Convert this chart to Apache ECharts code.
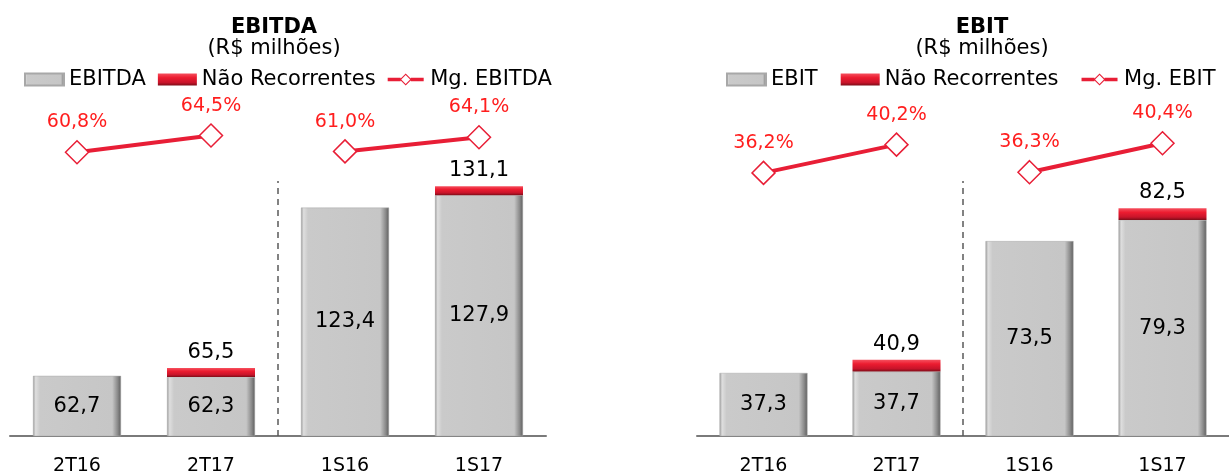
<!DOCTYPE html>
<html>
<head>
<meta charset="utf-8">
<script src="https://cdn.jsdelivr.net/npm/echarts@6/dist/echarts.min.js"></script>
<style>
  html, body { margin: 0; padding: 0; background: #ffffff; }
  #chart { width: 1229px; height: 476px; }
</style>
</head>
<body>
<div id="chart"></div>
<script>
// ---- data ----
const categories = ['2T16', '2T17', '1S16', '1S17'];
const quarterCount = 2; // first two categories are quarters, the rest half-years

const ebitdaBase   = [62.7, 62.3, 123.4, 127.9];
const ebitdaTotal  = [null, 65.5, null, 131.1];
const ebitdaMargin = [60.8, 64.5, 61.0, 64.1];

const ebitBase   = [37.3, 37.7, 73.5, 79.3];
const ebitTotal  = [null, 40.9, null, 82.5];
const ebitMargin = [36.2, 40.2, 36.3, 40.4];

// ---- helpers ----
const FONT = '"DejaVu Sans", Verdana, sans-serif';
const fmt = v => v.toFixed(1).replace('.', ',');
const nonRec = (base, total) => total.map((t, i) => t == null ? null : Math.round((t - base[i]) * 10) / 10);
const firstHalf = arr => arr.map((v, i) => i < quarterCount ? v : null);
const secondHalf = arr => arr.map((v, i) => i >= quarterCount ? v : null);

const grayFill = {
  type: 'linear', x: 0, y: 0, x2: 1, y2: 0,
  colorStops: [
    { offset: 0, color: '#9a9a9a' },
    { offset: 0.03, color: '#dedede' },
    { offset: 0.08, color: '#cacaca' },
    { offset: 0.9, color: '#c6c6c6' },
    { offset: 0.96, color: '#8c8c8c' },
    { offset: 1, color: '#5e5e5e' }
  ]
};
const redFill = {
  type: 'linear', x: 0, y: 0, x2: 0, y2: 1,
  colorStops: [
    { offset: 0, color: '#f5505e' },
    { offset: 0.35, color: '#ec1c30' },
    { offset: 0.75, color: '#c8142a' },
    { offset: 1, color: '#7e0d18' }
  ]
};
const LINE_RED = '#e81e36';
const LABEL_RED = '#ff1e1e';

// legend icon: thick line with a hollow diamond in the middle
const LINE_DIAMOND_ICON = 'path://M0 4.6L14 4.6L14 8.4L0 8.4Z M25 4.6L39 4.6L39 8.4L25 8.4Z ' +
  'M19.5 0L26 6.5L19.5 13L13 6.5Z M19.5 1.7L14.7 6.5L19.5 11.3L24.3 6.5Z';

function panelSeries(gi, baseName, base, total, marginName, margin) {
  const barAxis = gi * 2, mAxis = gi * 2 + 1;
  const stack = 'stack' + gi;
  const lineCommon = {
    type: 'line', name: marginName, xAxisIndex: gi, yAxisIndex: mAxis,
    symbol: 'diamond', symbolSize: 23, clip: false, z: 5,
    lineStyle: { color: LINE_RED, width: 4 },
    itemStyle: { color: '#ffffff', borderColor: LINE_RED, borderWidth: 1.5 },
    label: {
      show: true, position: 'top', distance: 8, color: LABEL_RED,
      fontSize: 19, fontFamily: FONT,
      formatter: p => fmt(p.value) + '%'
    }
  };
  return [
    {
      type: 'bar', name: baseName, xAxisIndex: gi, yAxisIndex: barAxis,
      stack: stack, barWidth: 88, data: base,
      itemStyle: { color: grayFill, borderColor: '#a8a8a8', borderWidth: 0.5 },
      label: {
        show: true, position: 'inside', color: '#000', fontSize: 21, fontFamily: FONT,
        formatter: p => fmt(p.value)
      }
    },
    {
      type: 'bar', name: 'Não Recorrentes', xAxisIndex: gi, yAxisIndex: barAxis,
      stack: stack, barWidth: 88, data: nonRec(base, total),
      itemStyle: { color: redFill },
      label: {
        show: true, position: 'top', distance: 5, color: '#000', fontSize: 21, fontFamily: FONT,
        formatter: p => fmt(total[p.dataIndex])
      }
    },
    Object.assign({}, lineCommon, { data: firstHalf(margin) }),
    Object.assign({}, lineCommon, { data: secondHalf(margin) }),
    // dashed divider between quarters and half-years, on a hidden band-position axis
    {
      type: 'line', name: 'divider' + gi, xAxisIndex: 2 + gi, yAxisIndex: barAxis,
      data: [], silent: true,
      markLine: {
        silent: true, symbol: 'none', animation: false,
        label: { show: false },
        lineStyle: { color: '#5a5a5a', width: 1.5, type: [6, 5] },
        data: [{ xAxis: quarterCount }]
      }
    }
  ];
}

function xAxisFor(gi) {
  return {
    type: 'category', gridIndex: gi, data: categories,
    axisLine: { onZero: false, lineStyle: { color: '#7a7a7a', width: 2 } },
    axisTick: { show: false },
    axisLabel: { color: '#000', fontSize: 19, fontFamily: FONT, margin: 21 },
    splitLine: { show: false }
  };
}

function bandAxisFor(gi) {
  return { type: 'value', gridIndex: gi, min: 0, max: categories.length, show: false, splitLine: { show: false } };
}

function hiddenY(gi, min, max) {
  return { type: 'value', gridIndex: gi, min: min, max: max, show: false, splitLine: { show: false } };
}

function legendFor(left, gap, names) {
  return {
    left: left, top: 69, padding: 0, itemGap: gap,
    itemWidth: 39, itemHeight: 12,
    textStyle: { color: '#000', fontSize: 21, fontFamily: FONT },
    data: [
      { name: names[0], icon: 'rect' },
      { name: names[1], icon: 'rect' },
      { name: names[2], icon: LINE_DIAMOND_ICON, itemStyle: { color: LINE_RED, borderWidth: 0 } }
    ]
  };
}

const chart = echarts.init(document.getElementById('chart'), null, { renderer: 'canvas' });

const option = {
  backgroundColor: '#ffffff',
  animation: false,
  textStyle: { fontFamily: FONT },
  graphic: [
    { type: 'text', x: 274, y: 28, style: { text: 'EBITDA', fontSize: 21, fontWeight: 'bold', fontFamily: FONT, fill: '#000', align: 'center', verticalAlign: 'middle' } },
    { type: 'text', x: 274, y: 49, style: { text: '(R$ milhões)', fontSize: 21, fontFamily: FONT, fill: '#000', align: 'center', verticalAlign: 'middle' } },
    { type: 'text', x: 982, y: 28, style: { text: 'EBIT', fontSize: 21, fontWeight: 'bold', fontFamily: FONT, fill: '#000', align: 'center', verticalAlign: 'middle' } },
    { type: 'text', x: 982, y: 49, style: { text: '(R$ milhões)', fontSize: 21, fontFamily: FONT, fill: '#000', align: 'center', verticalAlign: 'middle' } }
  ],
  legend: [
    legendFor(24, 12, ['EBITDA', 'Não Recorrentes', 'Mg. EBITDA']),
    legendFor(726, 23, ['EBIT', 'Não Recorrentes', 'Mg. EBIT'])
  ],
  grid: [
    { left: 10, top: 181, width: 536, height: 257 },
    { left: 697, top: 181, width: 536, height: 257 }
  ],
  xAxis: [xAxisFor(0), xAxisFor(1), bandAxisFor(0), bandAxisFor(1)],
  yAxis: [
    hiddenY(0, 41, 133),
    hiddenY(0, -1.49, 54.5),
    hiddenY(1, 20, 90),
    hiddenY(1, -1.06, 35.05)
  ],
  series: [].concat(
    panelSeries(0, 'EBITDA', ebitdaBase, ebitdaTotal, 'Mg. EBITDA', ebitdaMargin),
    panelSeries(1, 'EBIT', ebitBase, ebitTotal, 'Mg. EBIT', ebitMargin)
  )
};

chart.setOption(option);
</script>
</body>
</html>
